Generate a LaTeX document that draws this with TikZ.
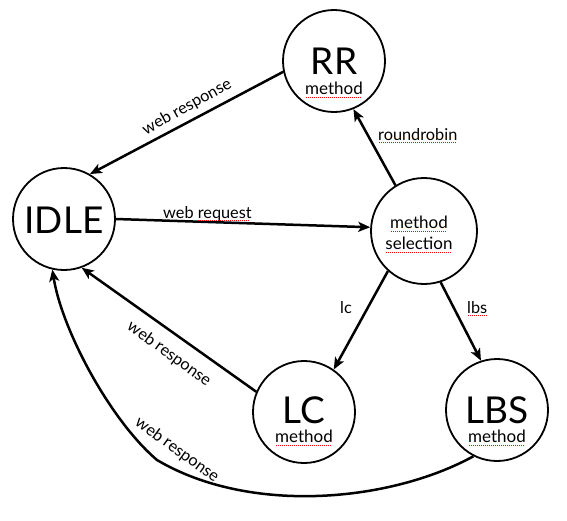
\documentclass[tikz,border=0pt]{standalone}
\usepackage{fontspec}
\setmainfont{Lato}
\usetikzlibrary{arrows.meta}
\newcommand\spl[1]{\setbox0\hbox{#1}\rlap{\color{red}\raisebox{-3pt}{\leaders\hbox to 2pt{\hss\rule{1.1pt}{1.1pt}\hss}\hskip\wd0}}\box0}
\begin{document}
\begin{tikzpicture}[x=1pt,y=-1pt,
  st/.style={circle, draw, line width=1.8pt, minimum size=102pt, inner sep=0pt},
  big/.style={font=\fontsize{37}{37}\selectfont, inner sep=0pt},
  small/.style={font=\fontsize{17}{19}\selectfont, inner sep=0pt},
  lab/.style={font=\fontsize{16.3}{18}\selectfont, inner sep=0pt},
  arr/.style={line width=2.5pt, -{Stealth[length=12pt,width=10pt,inset=3pt]}}]
\useasboundingbox (0,0) rectangle (567,520);
% states
\node[st] (rr) at (334,61) {};
\node[st] (idle) at (64,219) {};
\node[st, minimum size=106pt] (ms) at (424,231) {};
\node[st] (lc) at (304,412) {};
\node[st] (lbs) at (497,410) {};
% texts
\node[big] (rrt) at (334,61) {RR};
\node[small] (rrm) at (334,90) {\spl{method}};
\node[big] (idlet) at (64,220) {IDLE};
\node[small] (msm) at (419,224) {\spl{method}};
\node[small] (mss) at (419,245) {\spl{selection}};
\node[big] (lct) at (304,410) {LC};
\node[small] (lcm) at (304,438) {\spl{method}};
\node[big] (lbst) at (497,410) {LBS};
\node[small] (lbsm) at (497,438) {\spl{method}};
% connectors
\draw[arr] (rr.192) -- (idle.60);
\draw[arr] (idle.0) -- (ms.176);
\draw[arr] (ms.122) -- (rr.-68);
\draw[arr] (ms.228) -- (lc.55);
\draw[arr] (ms.-72) -- (lbs.108);
\draw[arr] (lc.157) -- (idle.-70);
\coordinate (bend) at (157,460);
\draw[arr] (lbs.243) .. controls (390,502) and (250,515) .. (bend)
  .. controls (110,420) and (62,330) .. (idle.-103);
% labels
\node[lab, rotate=29] (l1) at (187,107) {web response};
\node[lab, anchor=base west] (l2) at (163,218) {web \spl{request}};
\node[lab, anchor=base west] (l3) at (378,140) {\spl{roundrobin}};
\node[lab, anchor=base west] (l4) at (340,313) {lc};
\node[lab, anchor=base west] (l5) at (467,313) {\spl{lbs}};
\node[lab, rotate=-36] (l6) at (169,354) {web response};
\node[lab, rotate=-36] (l7) at (177,450) {web response};
\end{tikzpicture}
\end{document}
